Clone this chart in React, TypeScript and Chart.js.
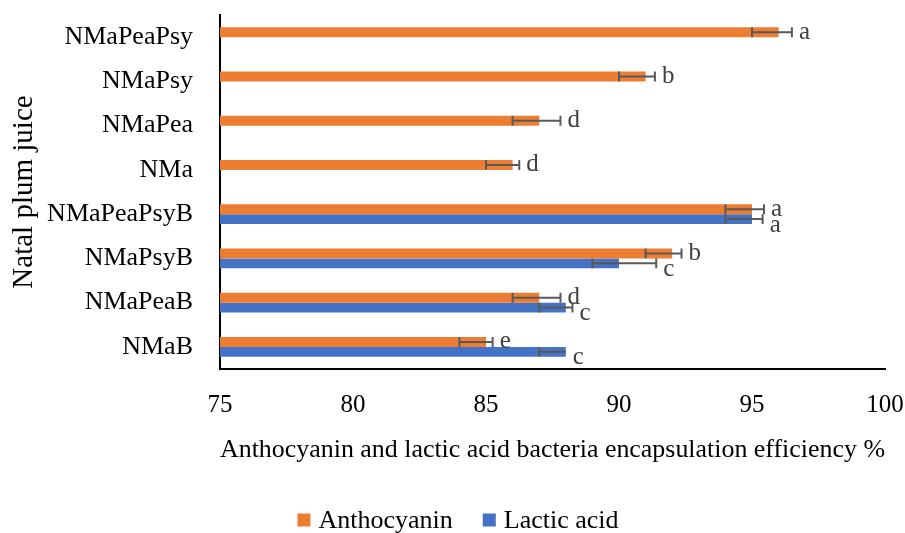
import React, { useEffect, useRef } from "react";
import { Chart, registerables } from "chart.js";

Chart.register(...registerables);

const categories = [
  "NMaPeaPsy",
  "NMaPsy",
  "NMaPea",
  "NMa",
  "NMaPeaPsyB",
  "NMaPsyB",
  "NMaPeaB",
  "NMaB",
];
const seriesNames = ["Anthocyanin", "Lactic acid"];
const anthocyanin = [96, 91, 87, 86, 95, 92, 87, 85];
const lacticAcid = [null, null, null, null, 95, 90, 88, 88];
const anthoErrMinus = [1, 1, 1, 1, 1, 1, 1, 1];
const anthoErrPlus = [0.5, 0.35, 0.8, 0.25, 0.45, 0.35, 0.8, 0.25];
const lacticErrMinus = [null, null, null, null, 1, 1, 1, 1];
const lacticErrPlus = [null, null, null, null, 0.4, 1.4, 0.25, 0];
const anthoLetters = ["a", "b", "d", "d", "a", "b", "d", "e"];
const lacticLetters = ["", "", "", "", "a", "c", "c", "c"];
const xTicks = [75, 80, 85, 90, 95, 100];
const xTitle = "Anthocyanin and lactic acid bacteria encapsulation efficiency %";
const yTitle = "Natal plum juice";

const ORANGE = "#ED7D31";
const BLUE = "#4472C4";
const FONT = '"Liberation Serif", serif';

const errorBarPlugin = {
  id: "errorBarsLetters",
  afterDatasetsDraw(chart: any) {
    const ctx = chart.ctx;
    const xs = chart.scales.x;
    chart.data.datasets.forEach((ds: any, i: number) => {
      const meta = chart.getDatasetMeta(i);
      meta.data.forEach((el: any, j: number) => {
        const v = ds.data[j];
        if (v == null) return;
        const lo = xs.getPixelForValue(v - ds.errMinus[j]);
        const hi = xs.getPixelForValue(v + ds.errPlus[j]);
        const y = el.y;
        const h = el.height;
        ctx.save();
        ctx.strokeStyle = "#595959";
        ctx.lineWidth = 2;
        ctx.beginPath();
        ctx.moveTo(lo, y);
        ctx.lineTo(hi, y);
        ctx.moveTo(lo, y - h / 2);
        ctx.lineTo(lo, y + h / 2);
        if (ds.errPlus[j] > 0) {
          ctx.moveTo(hi, y - h / 2);
          ctx.lineTo(hi, y + h / 2);
        }
        ctx.stroke();
        const letter = ds.letters[j];
        if (letter) {
          ctx.fillStyle = "#404040";
          ctx.font = `25px ${FONT}`;
          ctx.textAlign = "left";
          ctx.textBaseline = "middle";
          ctx.fillText(letter, hi + 7, y + ds.letterDy);
        }
        ctx.restore();
      });
    });
  },
};

const legendPlugin = {
  id: "bottomLegend",
  afterDraw(chart: any) {
    const ctx = chart.ctx;
    ctx.save();
    ctx.font = `26px ${FONT}`;
    ctx.textBaseline = "middle";
    ctx.textAlign = "left";
    const colors = [ORANGE, BLUE];
    const box = 13;
    const gap = 8;
    const itemGap = 30;
    const widths = seriesNames.map((n) => box + gap + ctx.measureText(n).width);
    const total = widths.reduce((a, b) => a + b, 0) + itemGap * (seriesNames.length - 1);
    let x = 458 - total / 2;
    const y = 520;
    seriesNames.forEach((n, k) => {
      ctx.fillStyle = colors[k];
      ctx.fillRect(x, y - box / 2, box, box);
      ctx.fillStyle = "#000";
      ctx.fillText(n, x + box + gap, y + 1);
      x += widths[k] + itemGap;
    });
    ctx.restore();
  },
};

export default function App() {
  const ref = useRef<HTMLCanvasElement | null>(null);
  useEffect(() => {
    if (!ref.current) return;
    const chart = new Chart(ref.current, {
      type: "bar",
      data: {
        labels: categories,
        datasets: [
          {
            label: seriesNames[0],
            data: anthocyanin,
            backgroundColor: ORANGE,
            errMinus: anthoErrMinus,
            errPlus: anthoErrPlus,
            letters: anthoLetters,
            letterDy: 0,
          } as any,
          {
            label: seriesNames[1],
            data: lacticAcid,
            backgroundColor: BLUE,
            errMinus: lacticErrMinus,
            errPlus: lacticErrPlus,
            letters: lacticLetters,
            letterDy: 6,
          } as any,
        ],
      },
      options: {
        indexAxis: "y",
        animation: false,
        responsive: true,
        maintainAspectRatio: false,
        layout: { padding: { top: 15, right: 20, left: 0, bottom: 0 } },
        datasets: { bar: { categoryPercentage: 0.45, barPercentage: 1 } },
        plugins: {
          legend: { display: false },
          tooltip: { enabled: false },
        },
        scales: {
          x: {
            type: "linear",
            min: 75,
            max: 100,
            afterBuildTicks: (s: any) => {
              s.ticks = xTicks.map((v) => ({ value: v }));
            },
            ticks: {
              font: { family: FONT, size: 25 },
              color: "#000",
              padding: 21,
              maxRotation: 0,
            },
            grid: { display: false, drawTicks: false },
            border: { display: true, color: "#000", width: 2 },
            title: {
              display: true,
              text: xTitle,
              color: "#000",
              font: { family: FONT, size: 26, lineHeight: 1 },
              padding: { top: 0, bottom: 70 },
            },
            afterFit: (s: any) => {
              s.height = 164;
              s.paddingLeft = 0;
              s.paddingRight = 0;
            },
          },
          y: {
            ticks: {
              font: { family: FONT, size: 26 },
              color: "#000",
              padding: 27,
            },
            grid: { display: false, drawTicks: false },
            border: { display: true, color: "#000", width: 2 },
            title: {
              display: true,
              text: yTitle,
              color: "#000",
              font: { family: FONT, size: 29, lineHeight: 1 },
              padding: { top: 10, bottom: 0 },
            },
            afterFit: (s: any) => {
              s.width = 220;
              s.paddingTop = 0;
              s.paddingBottom = 0;
            },
          },
        },
      } as any,
      plugins: [errorBarPlugin, legendPlugin],
    });
    return () => chart.destroy();
  }, []);
  return (
    <div style={{ position: "fixed", left: 0, top: 0, width: 905, height: 533 }}>
      <canvas ref={ref} />
    </div>
  );
}
